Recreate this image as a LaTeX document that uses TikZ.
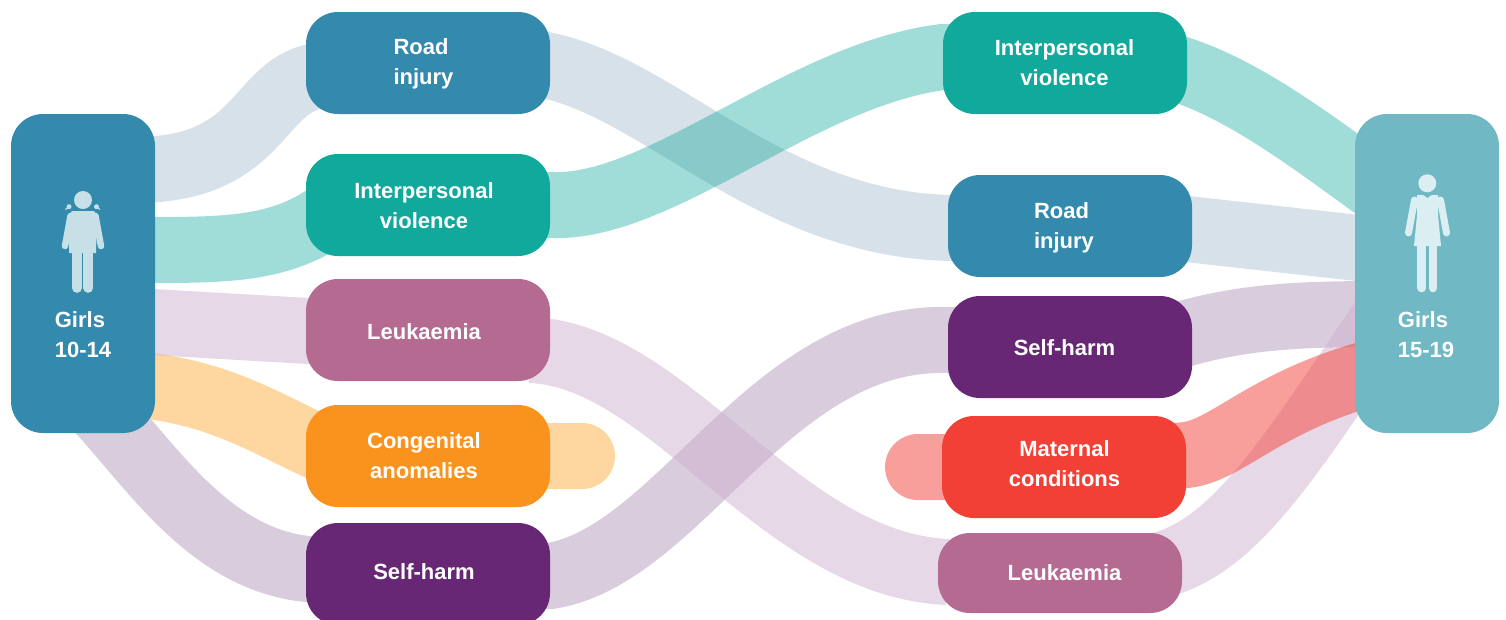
\documentclass[tikz,border=0pt]{standalone}
\usepackage{fontspec}
\setmainfont{Liberation Sans}
\usetikzlibrary{backgrounds}
\definecolor{roadc}{HTML}{348AAD}
\definecolor{violc}{HTML}{12A99D}
\definecolor{leukc}{HTML}{B56A92}
\definecolor{congc}{HTML}{F9931E}
\definecolor{selfc}{HTML}{682775}
\definecolor{matc}{HTML}{F34037}
\definecolor{oldc}{HTML}{6FB8C4}
\definecolor{roadp}{HTML}{D7E1E9}
\definecolor{leukp}{HTML}{CFB1CF}
\definecolor{congp}{HTML}{FDD6A0}
\definecolor{selfp}{HTML}{D8CCDD}
\definecolor{iconA}{HTML}{C7E0E8}
\definecolor{iconB}{HTML}{DBEEF2}
\tikzset{
  lbl/.style={text=white, font=\fontsize{22}{30}\selectfont\bfseries, align=center, inner sep=0pt},
  cause/.style={rounded corners=32pt, minimum width=244pt, minimum height=102pt},
  girl/.style={rounded corners=32pt, minimum width=144pt, minimum height=319pt},
  band/.style={line width=66pt},
}
\begin{document}
\begin{tikzpicture}[x=1pt, y=-1pt]
\useasboundingbox (0,0) rectangle (1506,619);
\node[girl, fill=roadc] (girlsA) at (83,273.5) {};
\node[girl, fill=oldc] (girlsB) at (1427,273.5) {};
\node[cause, fill=roadc] (road1) at (428,63) {};
\node[cause, fill=violc] (viol1) at (428,205) {};
\node[cause, fill=leukc] (leuk1) at (428,330) {};
\node[cause, fill=congc] (cong1) at (428,456) {};
\node[cause, fill=selfc] (self1) at (428,574) {};
\node[cause, fill=violc] (viol2) at (1065,63) {};
\node[cause, fill=roadc] (road2) at (1070,226) {};
\node[cause, fill=selfc] (self2) at (1070,347) {};
\node[cause, fill=matc] (mat2) at (1064,467) {};
\node[cause, fill=leukc, minimum height=80pt] (leuk2) at (1060,573) {};

\node[lbl, align=left] (ageA) at (83,335) {Girls\\10-14};
\node[lbl, align=left] (ageB) at (1426,335) {Girls\\15-19};
\node[lbl, align=left] (road1t) at (423.5,64) {Road\\injury};
\node[lbl] (viol1t) at (424,206) {Interpersonal\\violence};
\node[lbl] (leuk1t) at (424,332) {Leukaemia};
\node[lbl] (cong1t) at (424,456) {Congenital\\anomalies};
\node[lbl] (self1t) at (424,572) {Self-harm};
\node[lbl] (viol2t) at (1064.5,63) {Interpersonal\\violence};
\node[lbl, align=left] (road2t) at (1064,228) {Road\\injury};
\node[lbl] (self2t) at (1064.5,348) {Self-harm};
\node[lbl] (mat2t) at (1064.5,464) {Maternal\\conditions};
\node[lbl] (leuk2t) at (1064.5,573) {Leukaemia};

\begin{pgfonlayer}{background}
% pale ones at the bottom
\draw[band, roadp] ([xshift=-20pt,yshift=103.5pt]girlsA.east) .. controls (270,170) and (255,75) .. ([xshift=24pt,yshift=-12pt]road1.west);
\draw[band, roadp] ([xshift=-10pt,yshift=-1pt]road1.east) .. controls (660,85) and (770,228) .. ([xshift=10pt,yshift=-2pt]road2.west);
\draw[band, roadp] ([xshift=-32pt]road2.east) -- ([xshift=30pt,yshift=22.5pt]girlsB.west);
\draw[band, selfp] (85,395) .. controls (150,460) and (210,570) .. ([xshift=20pt,yshift=4pt]self1.west);
\draw[band, selfp] ([xshift=-10pt,yshift=-2pt]self1.east) -- ([yshift=-2pt]self1.east) .. controls (680,555) and (770,335) .. ([yshift=7pt]self2.west) -- ([xshift=10pt,yshift=7pt]self2.west);
\draw[band, selfp] ([xshift=-22pt,yshift=9pt]self2.east) .. controls (1240,316) and (1300,314) .. ([xshift=30pt,yshift=-40.5pt]girlsB.west);
\draw[band, congp, line cap=round] ([xshift=-40pt,yshift=-110.5pt]girlsA.east) .. controls (215,385) and (275,430) .. ([xshift=24pt,yshift=4pt]cong1.west) -- (cong1.east) -- (582,456);
% see-through ones on top
\draw[band, leukp, opacity=.5] ([xshift=-20pt,yshift=-47.5pt]girlsA.east) -- ([xshift=20pt,yshift=-2pt]leuk1.west);
\draw[band, leukp, opacity=.5] ([xshift=-20pt,yshift=-20pt]leuk1.east) .. controls (670,355) and (780,565) .. ([xshift=10pt,yshift=1pt]leuk2.west);
\draw[band, leukp, opacity=.5] ([xshift=-22pt,yshift=8pt]leuk2.east) .. controls (1240,545) and (1300,440) .. ([xshift=35pt,yshift=-36.5pt]girlsB.west);
\draw[band, violc, opacity=.4] ([xshift=-20pt,yshift=23.5pt]girlsA.east) -- (155,250) .. controls (230,250) and (280,248) .. ([xshift=20pt,yshift=-12pt]viol1.west);
\draw[band, violc, opacity=.4] ([xshift=-10pt]viol1.east) -- (viol1.east) .. controls (660,210) and (800,75) .. ([yshift=6pt]viol2.west) -- ([xshift=10pt,yshift=6pt]viol2.west);
\draw[band, violc, opacity=.4] ([xshift=-22pt,yshift=-2pt]viol2.east) .. controls (1240,85) and (1310,140) .. ([xshift=45pt,yshift=68.5pt]girlsB.west);
\draw[band, matc, opacity=.5, line cap=round] (918,467) -- (mat2.center) -- ([yshift=12pt]mat2.east) .. controls (1230,450) and (1270,395) .. ([xshift=40pt,yshift=-93.5pt]girlsB.west);
\end{pgfonlayer}

% girl 10-14
\fill[iconA] (83,200) circle (9);
\fill[iconA] (69,206.7) circle (2.5) (96.5,206.7) circle (2.5);
\draw[iconA, line width=1.2pt] (69,206.7) -- (65.5,209.5) (96.5,206.7) -- (100,209.5);
\fill[iconA] (72,211) -- (94,211) -- (97,215) -- (96,253) -- (69,253) -- (69,215) -- cycle;
\draw[iconA, line width=6.5pt, line cap=round] (70.5,216) -- (65,246) (95.5,216) -- (101,246);
\draw[iconA, line width=9.7pt, line cap=round] (77,250) -- (77,288) (88.3,250) -- (88.3,288);
% girl 15-19
\fill[iconB] (1427.3,183.3) circle (9);
\fill[iconB] (1417,195) -- (1423,195) -- (1427.3,198) -- (1432,195) -- (1438,195) -- (1438,215) -- (1441,246) -- (1414,246) -- (1417,215) -- cycle;
\draw[iconB, line width=7pt, line cap=round] (1414.5,200) -- (1408.5,233) (1440.5,200) -- (1446.5,233);
\draw[iconB, line width=8.7pt, line cap=round] (1421.7,240) -- (1421.7,288) (1433,240) -- (1433,288);
\end{tikzpicture}
\end{document}
